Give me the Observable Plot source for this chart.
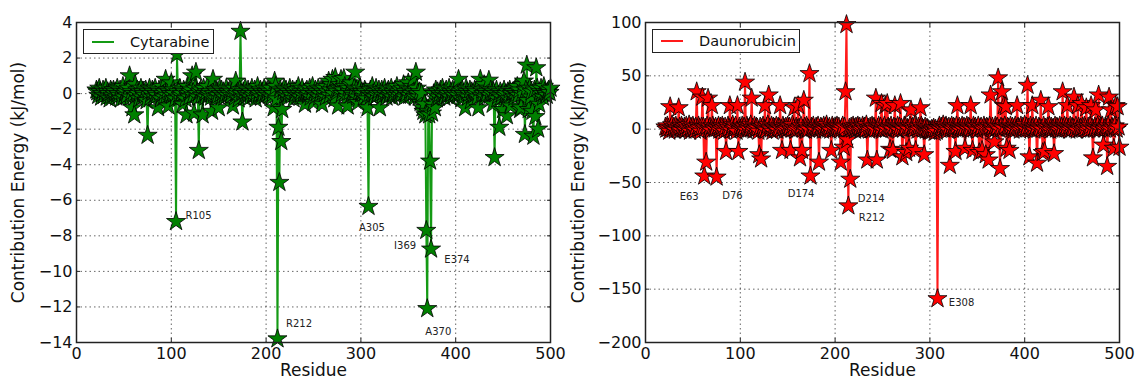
<!DOCTYPE html>
<html>
<head>
<meta charset="utf-8">
<script src="https://cdn.jsdelivr.net/npm/d3@7"></script>
<script src="https://cdn.jsdelivr.net/npm/@observablehq/plot@0.6"></script>
<style>
  body { margin: 0; background: #fff; font-family: "DejaVu Sans", sans-serif; }
  #wrap { position: relative; width: 1138px; height: 383px; overflow: hidden; background: #fff; }
  .panel { position: absolute; top: 0; overflow: visible; }
  .legend { position: absolute; box-sizing: border-box; border: 1.5px solid #222; background: #fff;
            display: flex; align-items: center; font-size: 14.5px; color: #111; white-space: nowrap; }
  .legend .sw { display: inline-block; width: 22px; height: 0; border-top: 2px solid; margin-left: 8px; margin-right: 16px; }
</style>
</head>
<body>
<div id="wrap"></div>
<script>
// Residue numbering of the first value in each series
const firstResidue = 21;

// Cytarabine contribution energy (kJ/mol), residues 21..500
const cytarabine = [
  0.2,0.1,-0.1,0.3,0.1, -0.2,0.0,0.2,-0.1,0.1, 0.3,-0.2,0.1,0.0,-0.3, 0.2,0.1,-0.1,0.2,0.0,
  0.1,-0.2,0.3,0.0,-0.1, 0.2,-0.3,0.1,0.4,-0.2, 0.0,0.1,-0.1,0.2,0.3, 1.0,-0.2,0.1,-0.8,0.0,
  -1.2,0.5,-0.1,0.2,0.0, -0.3,0.1,0.3,-0.2,0.1, 0.0,-0.1,0.2,-0.4,-2.35, 0.1,0.3,-0.2,0.0,0.2,
  0.1,-0.2,0.3,0.0,-0.1, -0.8,0.2,0.1,-0.3,0.4, 0.0,-0.2,0.1,0.8,-0.1, 0.2,-0.7,0.1,0.0,0.6,
  -0.1,0.2,0.0,-0.3,-7.2, 2.2,0.1,-0.2,0.3,-0.1, 0.0,-0.6,0.2,0.1,-0.3, -1.2,0.4,0.0,-0.2,0.1,
  0.2,1.0,-0.1,-1.1,0.3, 1.2,0.0,-0.2,-3.2,0.1, 0.2,-0.1,-1.2,0.3,0.0, -0.2,0.1,0.4,-0.1,0.0,
  0.1,-0.2,-1.0,0.8,0.0, 0.2,-0.3,0.1,-0.1,-0.8, 0.3,0.0,0.2,-0.1,0.1, -0.2,0.0,0.3,-0.1,0.1,
  0.0,0.2,-0.1,0.1,-0.7, 0.3,-0.2,0.7,0.0,0.1, -0.3,0.2,3.5,0.0,-1.6, 0.1,-0.2,0.3,0.0,-0.1,
  0.2,0.0,-0.2,0.1,0.3, -0.1,0.0,0.2,-0.3,0.1, 0.4,-0.1,0.0,0.2,-0.2, 0.1,0.0,0.3,-0.1,0.1,
  0.0,0.2,-0.1,0.1,0.3, -0.2,0.0,-0.8,0.7,0.4, -0.3,-13.8,-1.9,-5.0,0.2, -2.7,-0.9,0.1,0.3,-0.1,
  0.2,0.0,-0.2,0.1,0.3, 0.0,-0.1,0.2,-0.3,0.1, 0.0,0.2,-0.1,0.4,0.0, -0.2,0.1,0.3,-0.1,0.0,
  -0.6,0.1,0.2,-0.1,0.0, 0.3,-0.2,0.1,0.4,-0.5, 0.0,0.2,-0.1,0.1,0.3, -0.2,0.0,0.2,-0.6,0.1,
  0.3,0.0,-0.2,0.4,0.1, 0.7,-0.1,0.2,0.5,0.8, 0.0,-0.3,0.9,0.2,0.1, -0.7,0.3,0.5,0.8,0.0,
  0.2,0.85,0.4,0.0,-0.2, -0.7,0.3,0.1,0.5,0.6, 0.0,-0.1,0.3,1.2,0.2, -0.2,-0.5,0.1,0.3,0.0,
  0.1,0.0,-0.2,0.2,0.1, -0.3,-0.8,-6.35,0.0,0.2, -0.1,0.4,0.0,-0.2,0.1, 0.3,-0.1,0.0,0.2,-0.8,
  0.0,0.2,-0.1,0.1,0.3, 0.0,-0.2,0.1,0.2,-0.1, 0.0,0.3,-0.2,0.1,0.0, 0.2,-0.1,0.4,0.0,0.1,
  -0.1,0.2,0.0,0.3,0.5, -0.2,0.1,0.0,0.3,0.6, -0.1,0.2,0.0,0.4,0.8, 0.1,-0.2,1.2,0.3,0.0,
  -0.2,0.1,-0.5,0.0,-0.8, -1.0,-0.6,-1.2,-7.7,-12.1, -1.0,-1.2,-3.8,-8.75,-1.1, -0.6,0.0,-0.8,0.2,-0.3,
  0.1,-0.2,0.0,0.2,-0.1, 0.3,0.0,-0.2,0.1,0.2, -0.1,0.0,0.3,-0.2,0.1, 0.0,0.2,-0.1,0.1,0.0,
  0.2,-0.1,0.8,0.0,0.1, -0.3,0.2,0.0,-0.1,-0.8, 0.3,0.1,-0.2,0.0,0.2, -0.4,0.1,0.0,-0.1,0.2,
  0.0,0.1,-0.2,-0.8,0.3, 0.8,-0.1,0.2,0.0,0.5, -0.2,0.1,0.0,0.3,0.75, -0.1,0.2,0.0,-0.6,0.1,
  -3.6,0.0,0.2,-0.3,-0.1, -1.9,0.1,-0.2,0.0,-0.9, 0.2,-0.1,0.0,-1.25,0.1, -0.3,0.2,-0.7,0.0,0.1,
  0.1,-0.2,0.3,0.0,0.4, -0.1,0.2,-0.9,-0.8,0.0, 0.5,0.7,-2.3,0.2,1.6, -0.4,-0.9,0.3,-0.2,0.1,
  -1.0,-2.4,0.2,-1.3,1.45, 0.3,-2.0,-0.6,0.1,0.3, 0.0,-0.2,0.4,0.1,0.0, -0.1,0.1,0.2,0.06,0.3
];

// Daunorubicin contribution energy (kJ/mol), residues 21..500
const daunorubicin = [
  2,0,3,1,-2, 21,1,4,0,2, -1,3,1,0,20, 2,-1,3,1,0,
  2,-1,3,0,1, 4,-2,2,0,3, 1,-1,2,35,0, 3,1,-2,2,30,
  2,-44,1,-31,3, 29,0,2,-1,22, 3,1,0,2,-45, 1,3,-1,2,0,
  3,1,-2,2,-21, 0,3,1,22,-1, 2,4,0,1,3, -2,22,-21,2,0,
  1,3,0,2,44, -1,3,1,0,2, 4,29,1,-1,3, 0,2,1,-2,-24,
  2,-28,1,3,0, 22,-1,2,4,32, 1,0,3,-2,2, 1,0,3,-1,2,
  1,22,0,-20,3, 1,-1,2,0,3, 1,2,-20,0,4, 1,20,-1,2,0,
  22,1,-27,3,-20, 0,27,2,-1,3, 1,0,52,-44,2, 1,3,0,-1,2,
  1,3,-31,0,2, 1,-1,3,0,2, 4,1,0,2,-1, -20,3,1,0,2,
  1,3,0,2,-1, -31,1,3,-17,2, 35,98,-10,-72,1, -47,2,0,3,1,
  -1,2,0,3,1, 2,-1,0,3,1, 2,0,4,-29,1, -1,2,0,3,1,
  2,0,29,-29,1, 3,0,2,24,-1, 1,3,22,0,24, 2,1,-19,3,0,
  -20,2,22,1,0, 3,-1,2,24,1, -26,0,3,2,-22, 1,0,-18,3,18,
  1,2,0,3,-20, 1,-1,2,0,20, 3,1,0,-24,2, -1,1,0,-2,-1,
  -2,0,-1,1,-3, 0,-2,-159,1,3, 0,2,1,4,0, 2,3,1,-1,2,
  -34,1,3,0,2, 1,-21,3,22,0, 2,-1,1,3,0, 2,-18,1,3,0,
  2,1,22,0,-20, 3,1,2,0,-1, 3,-22,1,2,-20, 0,3,1,-24,2,
  1,-29,3,32,0, 2,-1,-12,3,1, 2,48,0,-37,2, 35,1,22,3,21,
  -18,2,1,-20,3, 0,2,-1,1,3, 0,22,2,1,-1, 3,0,2,1,4,
  0,2,41,1,-26, 3,0,22,2,-1, 1,3,-32,0,2, 1,27,0,-22,3,
  -21,1,0,2,21, 3,-1,2,0,1, -23,3,0,2,1, -1,3,0,2,35,
  1,3,0,2,22, 1,-1,3,0,2, 1,30,0,3,-1, 22,2,0,1,24,
  2,0,3,1,20, -1,2,0,3,22, 1,-27,0,2,18, 1,3,32,0,2,
  1,3,-15,0,2, 1,-35,3,30,0, 18,2,1,-18,3, 22,0,21,2,-17
];

// Residue annotations
const cytLabels = ["R105", "R212", "A305", "I369", "E374", "A370"];
const cytLabelResidue = [115, 221, 298, 335, 388, 368];
const cytLabelEnergy = [-6.85, -12.95, -7.55, -8.55, -9.35, -13.4];

const dauLabels = ["E63", "D76", "D174", "D214", "R212", "E308"];
const dauLabelResidue = [36, 81, 150, 224, 225, 320];
const dauLabelEnergy = [-63, -62, -60.5, -65.5, -82.7, -162.7];

// Axis ticks
const xTicks = [0, 100, 200, 300, 400, 500];
const cytYTicks = [4, 2, 0, -2, -4, -6, -8, -10, -12, -14];
const dauYTicks = [100, 50, 0, -50, -100, -150, -200];

function panel({values, fill, lineColor, yDomain, yTicks, labels, lx, ly, width, marginLeft, marginRight}) {
  const data = values.map((v, i) => ({residue: firstResidue + i, energy: v}));
  const ann = labels.map((t, i) => ({text: t, residue: lx[i], energy: ly[i]}));
  const gridStyle = {stroke: "#000", strokeOpacity: 0.6, strokeWidth: 1, strokeDasharray: "1.5,3"};
  return Plot.plot({
    width, height: 383,
    marginLeft, marginRight, marginTop: 22, marginBottom: 41,
    style: {fontFamily: "DejaVu Sans", fontSize: "16px", color: "#111", background: "transparent", overflow: "visible"},
    x: {domain: [0, 500]},
    y: {domain: yDomain},
    marks: [
      Plot.gridX(xTicks, gridStyle),
      Plot.gridY(yTicks, gridStyle),
      Plot.line(data, {x: "residue", y: "energy", stroke: lineColor, strokeWidth: 2}),
      Plot.dot(data, {x: "residue", y: "energy", symbol: "star", r: 6, fill, fillOpacity: 1, stroke: "#000", strokeWidth: 0.8}),
      Plot.text(ann, {x: "residue", y: "energy", text: "text", textAnchor: "start", fontSize: 10, fill: "#222"}),
      Plot.axisX(xTicks, {anchor: "bottom", tickSize: 0, tickPadding: 5, label: null, fontSize: 16}),
      Plot.axisY(yTicks, {anchor: "left", tickSize: 0, tickPadding: 4, label: null, fontSize: 16}),
      Plot.axisX(xTicks, {anchor: "bottom", tickSize: 4, dy: -4, tickFormat: () => "", label: null, stroke: "#222"}),
      Plot.axisX(xTicks, {anchor: "top", tickSize: 4, dy: 4, tickFormat: () => "", label: null, stroke: "#222"}),
      Plot.axisY(yTicks, {anchor: "left", tickSize: 4, dx: 4, tickFormat: () => "", label: null, stroke: "#222"}),
      Plot.axisY(yTicks, {anchor: "right", tickSize: 4, dx: -4, tickFormat: () => "", label: null, stroke: "#222"}),
      Plot.frame({stroke: "#222", strokeWidth: 1.5}),
      Plot.text(["Contribution Energy (kJ/mol)"], {frameAnchor: "left", textAnchor: "middle", lineAnchor: "middle", rotate: -90, dx: -(marginLeft - 18), fontSize: 17, fill: "#111"}),
      Plot.text(["Residue"], {frameAnchor: "bottom", textAnchor: "middle", dy: 33, fontSize: 17, fill: "#111"})
    ]
  });
}

const wrap = document.getElementById("wrap");

const right = panel({
  values: daunorubicin, fill: "#ff0000", lineColor: "#ff1a1a",
  yDomain: [-200, 100], yTicks: dauYTicks,
  labels: dauLabels, lx: dauLabelResidue, ly: dauLabelEnergy,
  width: 578, marginLeft: 85, marginRight: 19
});
right.classList.add("panel");
right.style.left = "560px";
wrap.appendChild(right);

const left = panel({
  values: cytarabine, fill: "#008000", lineColor: "#149a14",
  yDomain: [-14, 4], yTicks: cytYTicks,
  labels: cytLabels, lx: cytLabelResidue, ly: cytLabelEnergy,
  width: 560, marginLeft: 76, marginRight: 10
});
left.classList.add("panel");
left.style.left = "0px";
wrap.appendChild(left);

function legend(name, color, x, y, w, h) {
  const d = document.createElement("div");
  d.className = "legend";
  d.style.left = x + "px"; d.style.top = y + "px";
  d.style.width = w + "px"; d.style.height = h + "px";
  const sw = document.createElement("span");
  sw.className = "sw"; sw.style.borderTopColor = color;
  const t = document.createElement("span");
  t.textContent = name;
  d.appendChild(sw); d.appendChild(t);
  wrap.appendChild(d);
}
legend("Cytarabine", "#149a14", 83, 29, 131, 25);
legend("Daunorubicin", "#ff1a1a", 652, 29, 148, 24);
</script>
</body>
</html>
